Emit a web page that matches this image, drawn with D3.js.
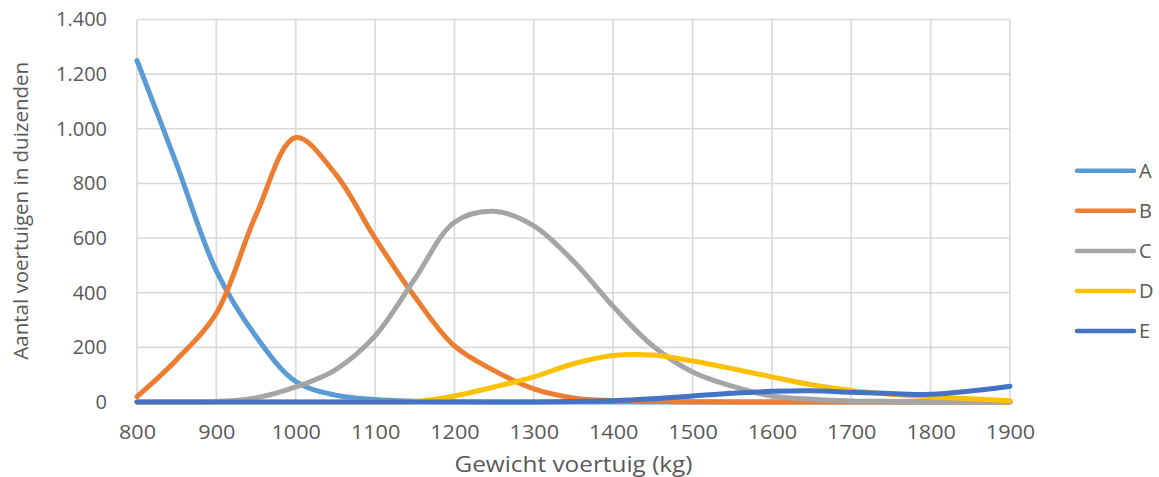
<!DOCTYPE html>
<html>
<head>
<meta charset="utf-8">
<script src="https://cdn.jsdelivr.net/npm/d3@7"></script>
<style>
  html, body { margin: 0; padding: 0; background: #fff; }
  svg { display: block; }
  text { font-family: "Open Sans", "Noto Sans", sans-serif; fill: #595959; }
</style>
</head>
<body>
<svg id="chart" width="1159" height="477"></svg>
<script>
const weights = [800,850,900,950,1000,1050,1100,1150,1200,1250,1300,1350,1400,1450,1500,1550,1600,1650,1700,1750,1800,1850,1900];
const seriesNames = ["A","B","C","D","E"];
const seriesA = [1250,870,480,240,75,25,9,3,1,0,0,0,0,0,0,0,0,0,0,0,0,0,0];
const seriesB = [20,155,325,685,968,835,600,385,205,115,48,15,5,2,1,0,0,0,0,0,0,0,0];
const seriesC = [0,0,2,15,55,118,242,450,658,698,645,515,350,205,110,58,22,10,4,2,1,0,0];
const seriesD = [0,0,0,0,0,0,0,2,22,55,92,140,170,172,150,122,92,63,42,28,18,12,5];
const seriesE = [0,0,0,0,0,0,0,0,0,0,0,2,5,12,22,32,39,41,36,31,28,40,58];
const colors = ["#5B9BD5","#ED7D31","#A5A5A5","#FFC000","#4472C4"];
const xTicks = [800,900,1000,1100,1200,1300,1400,1500,1600,1700,1800,1900];
const yTicks = [0,200,400,600,800,1000,1200,1400];
const xTitle = "Gewicht voertuig (kg)";
const yTitle = "Aantal voertuigen in duizenden";

(function () {
const allSeries = [seriesA, seriesB, seriesC, seriesD, seriesE];
const svg = d3.select("#chart");
const L = 137, R = 1010, T = 19.5, B = 402;

const x = d3.scaleLinear().domain([800,1900]).range([L,R]);
const y = d3.scaleLinear().domain([0,1400]).range([B,T]);
const fmt = v => d3.format(",")(v).replace(/,/g,".");

// grid
const grid = svg.append("g");
grid.selectAll("line.h").data(yTicks).join("line").attr("class","h")
  .attr("x1", L).attr("x2", R)
  .attr("y1", d => y(d)).attr("y2", d => y(d))
  .attr("stroke", "#D9D9D9").attr("stroke-width", 1.6);
grid.selectAll("line.v").data(xTicks).join("line").attr("class","v")
  .attr("x1", d => x(d)).attr("x2", d => x(d))
  .attr("y1", T).attr("y2", B)
  .attr("stroke", "#D9D9D9").attr("stroke-width", 1.6);

// axes (labels only)
const yAxis = d3.axisLeft(y).tickValues(yTicks).tickFormat(fmt).tickSize(0).tickPadding(30);
const gy = svg.append("g").attr("transform", `translate(${L},0)`).call(yAxis);
gy.select(".domain").remove();
gy.attr("font-family", null).attr("font-size", null);
gy.selectAll("text").style("font-size","20px").attr("fill","#595959");

const xAxis = d3.axisBottom(x).tickValues(xTicks).tickFormat(d => String(d)).tickSize(0).tickPadding(23);
const gx = svg.append("g").attr("transform", `translate(0,${B})`).call(xAxis);
gx.select(".domain").remove();
gx.attr("font-family", null).attr("font-size", null);
gx.selectAll("text").style("font-size","20px").attr("fill","#595959")
  .each(function () {
    const w = this.getComputedTextLength();
    d3.select(this).attr("textLength", w * 1.08).attr("lengthAdjust", "spacingAndGlyphs");
  });

// titles
svg.append("text").attr("x", (L+R)/2).attr("y", 472)
  .attr("text-anchor","middle").style("font-size","21px")
  .attr("textLength", 238).attr("lengthAdjust","spacingAndGlyphs").text(xTitle);
svg.append("text").attr("transform", `translate(28,${(T+B)/2}) rotate(-90)`)
  .attr("text-anchor","middle").style("font-size","20.5px").text(yTitle);

// lines
const line = d3.line().x(d => x(d[0])).y(d => y(d[1])).curve(d3.curveCatmullRom.alpha(0.5));
allSeries.forEach((s, i) => {
  svg.append("path")
    .datum(weights.map((w, j) => [w, s[j]]))
    .attr("fill","none").attr("stroke", colors[i])
    .attr("stroke-width", 5).attr("stroke-linecap","round").attr("stroke-linejoin","round")
    .attr("d", line);
});

// legend
const lg = svg.append("g");
seriesNames.forEach((n, i) => {
  const yy = 170.7 + i * 40.1;
  lg.append("line").attr("x1", 1077).attr("x2", 1134).attr("y1", yy).attr("y2", yy)
    .attr("stroke", colors[i]).attr("stroke-width", 4.5).attr("stroke-linecap","round");
  lg.append("text").attr("x", 1139).attr("y", yy).attr("dy","0.35em")
    .style("font-size","20px").text(n);
});
})();
</script>
</body>
</html>
